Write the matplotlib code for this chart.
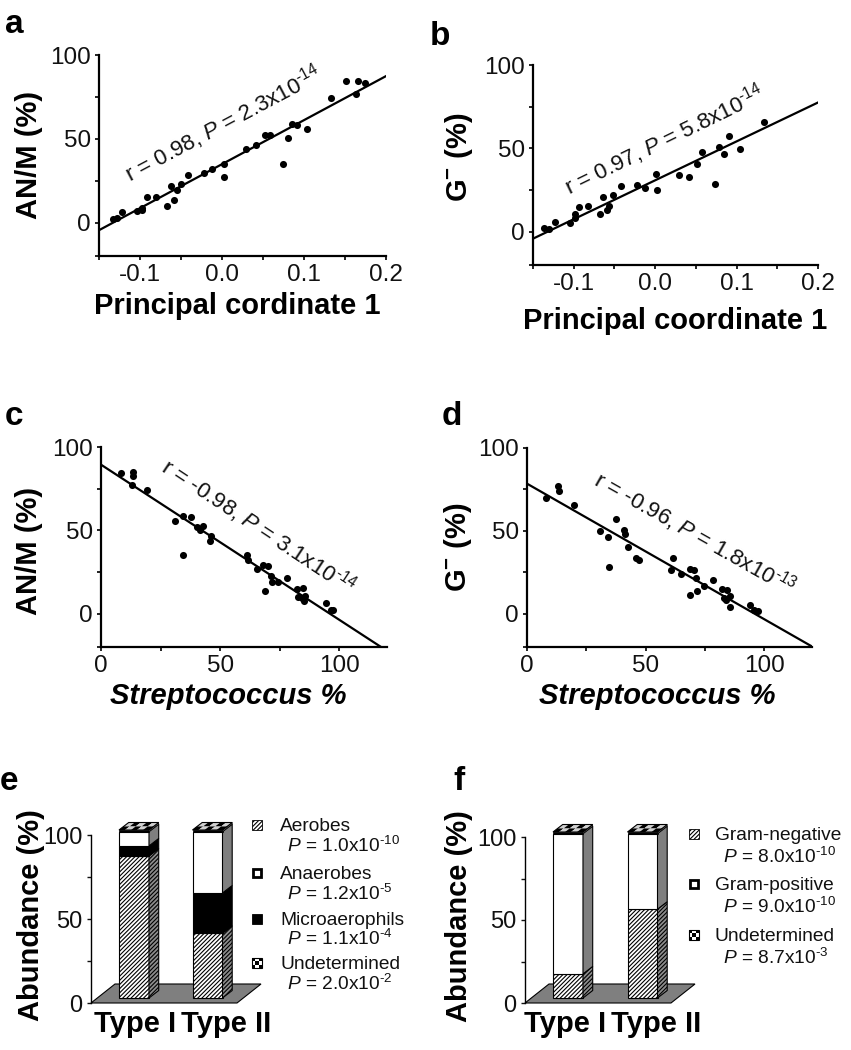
import numpy as np
import matplotlib
matplotlib.use("Agg")
import matplotlib.pyplot as plt
from matplotlib.patches import Polygon, Rectangle

# ---------------- data ----------------
# panel a: principal coordinate 1 vs AN/M (%)
pc1_a = [-0.133, -0.128, -0.122, -0.104, -0.098, -0.097, -0.092, -0.081, -0.067, -0.062, -0.058,
         -0.055, -0.050, -0.041, -0.022, -0.012, 0.002, 0.003, 0.029, 0.042, 0.053, 0.058,
         0.074, 0.080, 0.085, 0.091, 0.104, 0.133, 0.151, 0.164, 0.166, 0.174]
anm_a = [2.0, 2.6, 6.0, 7.0, 8.6, 7.4, 15.4, 15.0, 10.0, 21.6, 13.4, 19.4, 23.0, 28.6, 29.6, 32.0,
         35.0, 27.0, 44.0, 46.0, 52.4, 52.0, 35.0, 50.4, 58.6, 58.0, 56.0, 74.6, 84.4, 76.6, 84.4, 83.0]
fit_a_x = [-0.15, 0.2]
fit_a_y = [-4.6, 87.4]

# panel b: principal coordinate 1 vs G- (%)
pc1_b = [-0.136, -0.130, -0.123, -0.105, -0.099, -0.098, -0.093, -0.082, -0.068, -0.064, -0.059,
         -0.057, -0.052, -0.042, -0.022, -0.012, 0.001, 0.002, 0.029, 0.042, 0.052, 0.058,
         0.073, 0.079, 0.085, 0.091, 0.104, 0.134]
gneg_b = [2.4, 1.8, 5.8, 5.4, 8.4, 10.4, 15.0, 15.1, 10.4, 21.0, 12.7, 15.3, 21.7, 27.3, 27.7, 26.3,
          34.3, 24.7, 33.7, 32.7, 40.8, 47.8, 28.7, 50.8, 46.6, 57.6, 49.8, 65.5]
fit_b_x = [-0.15, 0.2]
fit_b_y = [-4.2, 77.5]

# panel c: Streptococcus % vs AN/M (%)
strep_c = [8.3, 13.6, 13.6, 13.2, 19.5, 30.9, 34.2, 34.6, 37.7, 40.2, 41.6, 42.6, 45.6, 46.3, 61.3,
           61.6, 65.3, 68.1, 68.8, 70.1, 71.4, 71.8, 74.3, 78.1, 82.3, 82.7, 84.7, 84.4, 85.3, 85.7,
           94.2, 96.3, 97.4]
anm_c = [84.4, 84.8, 82.8, 77.0, 74.4, 55.8, 58.4, 35.0, 58.0, 51.8, 50.4, 52.4, 43.8, 46.4, 35.0,
         32.4, 27.0, 29.4, 13.4, 28.4, 22.4, 19.0, 19.0, 21.4, 15.0, 9.8, 15.4, 9.4, 7.4, 10.4,
         6.4, 2.4, 2.0]
fit_c_x = [0, 117.5]
fit_c_y = [89.4, -20.0]

# panel d: Streptococcus % vs G- (%)
strep_d = [8.0, 12.9, 13.6, 19.7, 30.9, 34.1, 34.7, 37.6, 40.7, 41.3, 42.5, 45.9, 47.0, 60.7, 61.5,
           65.0, 68.5, 68.5, 70.2, 71.3, 71.6, 74.4, 78.2, 82.1, 82.8, 84.2, 83.8, 85.4, 85.6,
           94.1, 95.5, 97.3]
gneg_d = [69.8, 77.3, 73.8, 65.4, 50.1, 46.3, 28.2, 57.3, 50.3, 48.3, 40.6, 33.6, 32.2, 26.6, 33.6,
          23.9, 27.2, 11.5, 26.6, 21.5, 13.5, 16.5, 20.5, 14.9, 9.5, 14.5, 8.5, 10.5, 4.4,
          5.4, 2.4, 1.8]
fit_d_x = [0, 120]
fit_d_y = [78.5, -19.7]

pc_ticks = [-0.1, 0.0, 0.1, 0.2]
pc_ticklabels = ["-0.1", "0.0", "0.1", "0.2"]
strep_ticks = [0, 50, 100]
strep_ticklabels = ["0", "50", "100"]
pct_ticks = [0, 50, 100]
pct_ticklabels = ["0", "50", "100"]

HY = "\u2010"  # short hyphen used in the exponents
ann_a = r"r = 0.98, $\it{P}$ = 2.3x10$^{" + HY + "14}$"
ann_b = r"r = 0.97, $\it{P}$ = 5.8x10$^{" + HY + "14}$"
ann_c = r"r = -0.98, $\it{P}$ = 3.1x10$^{" + HY + "14}$"
ann_d = r"r = -0.96, $\it{P}$ = 1.8x10$^{" + HY + "13}$"

# panel e: oxygen requirement (stack order bottom -> top)
groups = ["Type I", "Type II"]
e_names = ["Aerobes", "Anaerobes", "Microaerophils", "Undetermined"]
e_pvals = [r"$\it{P}$ = 1.0x10$^{" + HY + "10}$", r"$\it{P}$ = 1.2x10$^{" + HY + "5}$",
           r"$\it{P}$ = 1.1x10$^{" + HY + "4}$", r"$\it{P}$ = 2.0x10$^{" + HY + "2}$"]
e_aerobes = [84.5, 38.5]
e_micro = [6.0, 24.0]
e_anaerobes = [8.5, 36.5]
e_undet = [1.0, 1.0]

# panel f: Gram stain
f_names = ["Gram-negative", "Gram-positive", "Undetermined"]
f_pvals = [r"$\it{P}$ = 8.0x10$^{" + HY + "10}$", r"$\it{P}$ = 9.0x10$^{" + HY + "10}$",
           r"$\it{P}$ = 8.7x10$^{" + HY + "3}$"]
f_gneg = [14.5, 53.5]
f_gpos = [84.5, 45.5]
f_undet = [1.0, 1.0]

# ---------------- style ----------------
plt.rcParams["font.family"] = ["Liberation Sans", "DejaVu Sans"]
plt.rcParams["mathtext.fontset"] = "custom"
plt.rcParams["mathtext.rm"] = "Liberation Sans"
plt.rcParams["mathtext.it"] = "Liberation Sans:italic"
plt.rcParams["mathtext.bf"] = "Liberation Sans:bold"
plt.rcParams["mathtext.default"] = "regular"
plt.rcParams["hatch.linewidth"] = 0.8

W, H, DPI = 851, 1050, 100
fig = plt.figure(figsize=(W / DPI, H / DPI), dpi=DPI, facecolor="white")


def px_ax(l, t, r, b):
    return fig.add_axes([l / W, 1 - b / H, (r - l) / W, (b - t) / H])


def ftext(x, y, s, **kw):
    return fig.text(x / W, 1 - y / H, s, **kw)


def fig_rect(x, y, w, h, **kw):
    p = Rectangle((x / W, 1 - (y + h) / H), w / W, h / H, transform=fig.transFigure, **kw)
    fig.add_artist(p)
    return p


LABEL_FS = 21
TICK_FS = 17.5


def scatter_panel(box, x, y, fx, fy, xlim, xmaj, xlabels, xminor, ann, ann_xy, ann_rot):
    ax = px_ax(*box)
    ax.set_xlim(*xlim)
    ax.set_ylim(-20, 100)
    ax.scatter(x, y, s=26, c="black", linewidths=0, zorder=3, clip_on=False)
    ax.plot(fx, fy, color="black", lw=1.6, zorder=2)
    for s in ["top", "right"]:
        ax.spines[s].set_visible(False)
    for s in ["left", "bottom"]:
        ax.spines[s].set_linewidth(1.6)
    ax.set_xticks(xmaj)
    ax.set_xticklabels(xlabels)
    ax.set_xticks(xminor, minor=True)
    ax.set_yticks(pct_ticks)
    ax.set_yticklabels(pct_ticklabels)
    ax.set_yticks([-20, 25, 75], minor=True)
    ax.tick_params(which="both", direction="out", length=3, width=1.3, labelsize=TICK_FS, pad=3,
                   colors="#111111")
    ax.text(ann_xy[0], ann_xy[1], ann, rotation=ann_rot, rotation_mode="anchor",
            ha="left", va="baseline", fontsize=16, color="#111111")
    ax.patch.set_alpha(0)
    return ax


# panel a
scatter_panel((99, 55, 386, 256), pc1_a, anm_a, fit_a_x, fit_a_y, (-0.15, 0.2), pc_ticks,
              pc_ticklabels, [-0.15, -0.05, 0.05, 0.15], ann_a, (-0.112, 24), 28)
# panel b
scatter_panel((533, 65, 818, 265), pc1_b, gneg_b, fit_b_x, fit_b_y, (-0.15, 0.2), pc_ticks,
              pc_ticklabels, [-0.15, -0.05, 0.05, 0.15], ann_b, (-0.106, 21.7), 26)
# panel c
scatter_panel((101, 447, 387, 647), strep_c, anm_c, fit_c_x, fit_c_y, (0, 120), strep_ticks,
              strep_ticklabels, [25, 75], ann_c, (24.5, 85.8), -33.5)
# panel d
scatter_panel((527, 448, 812, 647), strep_d, gneg_d, fit_d_x, fit_d_y, (0, 120), strep_ticks,
              strep_ticklabels, [25, 75], ann_d, (27.4, 78.3), -29.5)

# axis labels for scatter panels
ftext(237, 314, "Principal cordinate 1", fontsize=LABEL_FS, weight="bold", ha="center", va="baseline")
ftext(675, 329, "Principal coordinate 1", fontsize=LABEL_FS, weight="bold", ha="center", va="baseline")
ftext(228, 704, "Streptococcus %", fontsize=LABEL_FS, weight="bold", style="italic",
      ha="center", va="baseline")
ftext(657, 704, "Streptococcus %", fontsize=LABEL_FS, weight="bold", style="italic",
      ha="center", va="baseline")

ylab_kw = dict(fontsize=LABEL_FS, weight="bold", rotation=90, rotation_mode="anchor",
               ha="center", va="baseline")
ftext(37, 155, "AN/M (%)", **ylab_kw)
ftext(467, 157, r"G$^{\bf{-}}$ (%)", **ylab_kw)
ftext(37, 551, "AN/M (%)", **ylab_kw)
ftext(466, 547, r"G$^{\bf{-}}$ (%)", **ylab_kw)
ftext(39, 915, "Abundance (%)", **ylab_kw)
ftext(467, 916, "Abundance (%)", **ylab_kw)

# panel letters
let_kw = dict(fontsize=24, weight="bold", va="baseline", ha="left")
ftext(5, 33, "a", **let_kw)
ftext(430, 45, "b", **let_kw)
ftext(5, 425, "c", **let_kw)
ftext(442, 425, "d", **let_kw)
ftext(0, 790, "e", **let_kw)
ftext(453, 790, "f", **let_kw)

# ---------------- pseudo-3D stacked bars ----------------
GREY = "#7f7f7f"


def checker_poly(ax, p0, p1, p3, nx, ny, cols):
    p0, p1, p3 = map(np.asarray, (p0, p1, p3))
    for i in range(nx):
        for j in range(ny):
            u0, u1 = i / nx, (i + 1) / nx
            v0, v1 = j / ny, (j + 1) / ny
            pts = [p0 + u * (p1 - p0) + v * (p3 - p0) for u, v in [(u0, v0), (u1, v0), (u1, v1), (u0, v1)]]
            ax.add_patch(Polygon(pts, closed=True, fc=cols[(i + j) % 2], ec="none", clip_on=False, zorder=4))
    ax.add_patch(Polygon([p0, p1, p1 + (p3 - p0), p3], closed=True, fill=False, ec="black",
                         lw=0.8, clip_on=False, zorder=5))


def bar_panel(box, center_px, sp, segs, styles, label_dx):
    l, t, r, b = box
    ax = px_ax(l, t, r, b)
    ppy = (b - t) / 100.0
    ax.set_xlim((l - center_px) / sp, (r - center_px) / sp)
    ax.set_ylim(0, 100)
    for s in ["top", "right", "bottom"]:
        ax.spines[s].set_visible(False)
    ax.spines["left"].set_linewidth(1.0)
    ax.spines["left"].set_bounds(0, 100)
    ax.set_yticks(pct_ticks)
    ax.set_yticklabels(pct_ticklabels)
    ax.set_yticks([25, 75], minor=True)
    ax.set_xticks([])
    ax.tick_params(which="both", direction="out", length=3, width=1.0, labelsize=17, pad=3,
                   colors="#111111")
    ax.patch.set_alpha(0)

    # floor
    x0 = ax.get_xlim()[0]
    x1 = 103 / sp
    fdx, fdy = 24 / sp, 19 / ppy
    ax.add_patch(Polygon([(x0, 0), (x1, 0), (x1 + fdx, fdy), (x0 + fdx, fdy)], closed=True,
                         fc=GREY, ec="black", lw=0.8, clip_on=False, zorder=1))

    bw = 30 / sp
    ddx, ddy = 9.7 / sp, 7.5 / ppy
    base = 5 / ppy
    n = len(segs[0])
    for i in range(n):
        xl, xr = i - bw / 2, i + bw / 2
        y0 = base
        for seg, st in zip(segs, styles):
            v = seg[i]
            y1 = y0 + v
            if st["kind"] == "checker":
                ax.add_patch(Polygon([(xl, y0), (xr, y0), (xr, y1), (xl, y1)], closed=True,
                                     fc="black", ec="black", lw=0.5, clip_on=False, zorder=3))
                ax.add_patch(Polygon([(xr, y0), (xr + ddx, y0 + ddy), (xr + ddx, y1 + ddy), (xr, y1)],
                                     closed=True, fc=GREY, ec="black", lw=0.5, clip_on=False, zorder=3))
            else:
                ax.add_patch(Polygon([(xl, y0), (xr, y0), (xr, y1), (xl, y1)], closed=True,
                                     fc=st["front"], ec="black", lw=0.8, hatch=st["hatch"],
                                     clip_on=False, zorder=3))
                ax.add_patch(Polygon([(xr, y0), (xr + ddx, y0 + ddy), (xr + ddx, y1 + ddy), (xr, y1)],
                                     closed=True, fc=st["side"], ec="black", lw=0.8, hatch=st["hatch"],
                                     clip_on=False, zorder=3))
            y0 = y1
        # top face (checkered = topmost undetermined segment)
        checker_poly(ax, (xl, y0), (xr, y0), (xl + ddx, y0 + ddy), 5, 2, ["black", "#d0d0d0"])
    for i, g in enumerate(groups):
        ax.text(i + label_dx[i], (b - 1032) / (b - t), g, transform=ax.get_xaxis_transform(),
                fontsize=LABEL_FS, weight="bold", ha="center", va="baseline")
    return ax


HATCH = "////////"
st_hatched = dict(kind="plain", front="white", side="#8c8c8c", hatch=HATCH)
st_white = dict(kind="plain", front="white", side=GREY, hatch=None)
st_black = dict(kind="plain", front="black", side="black", hatch=None)
st_check = dict(kind="checker")

bar_panel((91, 835, 275, 1003), 134, 73.5, [e_aerobes, e_micro, e_anaerobes, e_undet],
          [st_hatched, st_black, st_white, st_check], [0.01, 0.25])
bar_panel((525, 837, 705, 1003), 568, 74.5, [f_gneg, f_gpos, f_undet],
          [st_hatched, st_white, st_check], [-0.04, 0.18])


# ---------------- legends ----------------
def legend_square(x, yc, kind):
    s = 10
    y = yc - s / 2
    if kind == "hatched":
        fig_rect(x, y, s, s, fc="white", ec="black", lw=0.6, hatch=HATCH)
    elif kind == "white":
        fig_rect(x + 1, y + 1, s - 2, s - 2, fc="white", ec="black", lw=2.0)
    elif kind == "black":
        fig_rect(x, y, s, s, fc="black", ec="black", lw=0.6)
    else:
        c = s / 3
        for i in range(3):
            for j in range(3):
                fig_rect(x + i * c, y + j * c, c, c, fc=["black", "white"][(i + j) % 2], ec="none")
        fig_rect(x, y, s, s, fill=False, ec="black", lw=0.8)


LEG_FS = 13.8
e_kinds = ["hatched", "white", "black", "checker"]
e_name_base = [831, 879, 925, 969]
e_p_base = [852, 900, 945, 990]
for nm, pv, kd, nb, pb in zip(e_names, e_pvals, e_kinds, e_name_base, e_p_base):
    legend_square(252, nb - 6, kd)
    ftext(280, nb, nm, fontsize=LEG_FS, va="baseline", ha="left", color="#111111")
    ftext(287, pb, pv, fontsize=LEG_FS, va="baseline", ha="left", color="#111111")

f_kinds = ["hatched", "white", "checker"]
f_name_base = [840, 890, 941]
f_p_base = [863, 913, 964]
for nm, pv, kd, nb, pb in zip(f_names, f_pvals, f_kinds, f_name_base, f_p_base):
    legend_square(689, nb - 6, kd)
    ftext(715, nb, nm, fontsize=LEG_FS, va="baseline", ha="left", color="#111111")
    ftext(723, pb, pv, fontsize=LEG_FS, va="baseline", ha="left", color="#111111")

fig.savefig("out.png", dpi=DPI, facecolor="white")
